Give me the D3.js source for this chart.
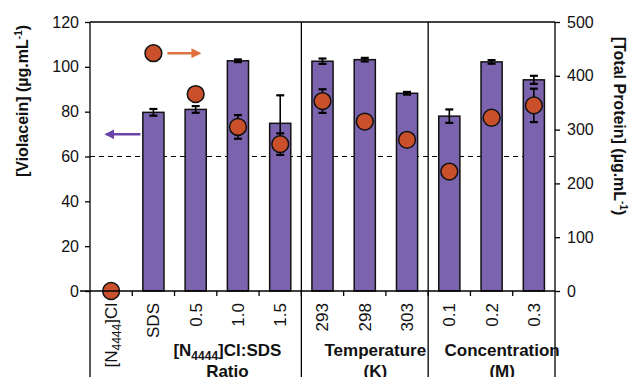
<!DOCTYPE html>
<html>
<head>
<meta charset="utf-8">
<script src="https://cdn.jsdelivr.net/npm/d3@7"></script>
<style>
  body { margin: 0; background: #fff; }
  svg { display: block; font-family: "Liberation Sans", Arial, sans-serif; }
</style>
</head>
<body>
<script>
// Categories along the bottom, and the two measured series
var categories = ["[N4444]Cl", "SDS", "0.5", "1.0", "1.5", "293", "298", "303", "0.1", "0.2", "0.3"];
var violacein = [0, 79.7, 81, 102.7, 74.8, 102.5, 103.2, 88.2, 78, 102.2, 94.2];
var violaceinErr = [0, 1.5, 1.5, 0.6, 12.5, 1.2, 0.8, 0.6, 3, 0.8, 1.8];
var protein = [0, 442, 366, 305, 273, 353, 315, 281, 222, 322, 345];
var proteinErr = [0, 0, 0, 22, 20, 22, 0, 0, 0, 0, 31];
var leftTicks = [0, 20, 40, 60, 80, 100, 120];
var rightTicks = [0, 100, 200, 300, 400, 500];
var threshold = 60;
// groups of categories with their titles (first index, last index, lines)
var groupFirst = [1, 5, 8];
var groupLast = [4, 7, 10];
var groupLines = [["[N4444]Cl:SDS", "Ratio"], ["Temperature", "(K)"], ["Concentration", "(M)"]];
var separators = [4, 7]; // line after these categories

var canvas = {w: 631, h: 377},
    margin = {top: 22, right: 76, bottom: 86, left: 90},
    width = canvas.w - margin.left - margin.right,
    height = canvas.h - margin.top - margin.bottom;

var barColor = "#7b63ad", dotColor = "#c9502a";

var svg = d3.select("body").append("svg")
    .attr("width", canvas.w)
    .attr("height", canvas.h);

var g = svg.append("g")
    .attr("transform", "translate(" + margin.left + "," + margin.top + ")");

var x = d3.scaleBand().domain(categories).range([0, width]).paddingInner(0).paddingOuter(0),
    yL = d3.scaleLinear().domain([0, 120]).range([height, 0]),
    yR = d3.scaleLinear().domain([0, 500]).range([height, 0]);

var bw = x.bandwidth();
function cx(i) { return x(categories[i]) + bw / 2; }

// frame: top line, full-height verticals
g.append("line").attr("x1", 0).attr("x2", width).attr("y1", 0).attr("y2", 0)
    .attr("stroke", "#000").attr("stroke-width", 1.3);
[0, width].concat(separators.map(function(i) { return x(categories[i]) + bw; }))
  .forEach(function(px) {
    g.append("line").attr("x1", px).attr("x2", px).attr("y1", 0).attr("y2", canvas.h - margin.top)
        .attr("stroke", "#000").attr("stroke-width", 1.3);
  });

// dashed reference line
g.append("line")
    .attr("x1", 0).attr("x2", width)
    .attr("y1", yL(threshold)).attr("y2", yL(threshold))
    .attr("stroke", "#000").attr("stroke-dasharray", "5,4").attr("stroke-width", 1);

// bars
var idx = d3.range(categories.length);
g.selectAll(".bar").data(idx.filter(function(i) { return violacein[i] > 0; }))
  .enter().append("rect")
    .attr("class", "bar")
    .attr("x", function(i) { return cx(i) - bw * 0.25; })
    .attr("width", bw * 0.5)
    .attr("y", function(i) { return yL(violacein[i]); })
    .attr("height", function(i) { return height - yL(violacein[i]); })
    .attr("fill", barColor)
    .attr("stroke", "#111").attr("stroke-width", 1.5);

function errorBar(sel, xc, yTop, yBot) {
  sel.append("line").attr("x1", xc).attr("x2", xc).attr("y1", yTop).attr("y2", yBot)
      .attr("stroke", "#000").attr("stroke-width", 1.6);
  [yTop, yBot].forEach(function(yy) {
    sel.append("line").attr("x1", xc - 4).attr("x2", xc + 4).attr("y1", yy).attr("y2", yy)
        .attr("stroke", "#000").attr("stroke-width", 2.2);
  });
}

idx.forEach(function(i) {
  if (violaceinErr[i] > 0)
    errorBar(g, cx(i), yL(violacein[i] + violaceinErr[i]), yL(violacein[i] - violaceinErr[i]));
});
idx.forEach(function(i) {
  if (proteinErr[i] > 0)
    errorBar(g, cx(i), yR(protein[i] + proteinErr[i]), yR(protein[i] - proteinErr[i]));
});

// protein dots
g.selectAll(".dot").data(idx)
  .enter().append("circle")
    .attr("class", "dot")
    .attr("cx", function(i) { return cx(i); })
    .attr("cy", function(i) { return yR(protein[i]); })
    .attr("r", 8.4)
    .attr("fill", dotColor)
    .attr("stroke", "#111").attr("stroke-width", 1.5);

// axes
var fontSize = 16, labelSize = 17;
var left = g.append("g").call(d3.axisLeft(yL).tickValues(leftTicks).tickSize(5).tickSizeOuter(0));
var right = g.append("g").attr("transform", "translate(" + width + ",0)")
    .call(d3.axisRight(yR).tickValues(rightTicks).tickSize(5).tickSizeOuter(0));
var bottom = g.append("g").attr("transform", "translate(0," + height + ")")
    .call(d3.axisBottom(x).tickSize(0).tickFormat(""));
[left, right, bottom].forEach(function(a) {
  a.select(".domain").remove();
  a.selectAll("line").attr("stroke", "#000").attr("stroke-width", 1.3);
  a.selectAll("text").attr("font-size", fontSize).attr("fill", "#111")
      .style("font-family", "Liberation Sans, Arial, sans-serif");
});
left.selectAll("text").attr("x", -11);
right.selectAll("text").attr("x", 12);
// x axis baseline and boundary ticks
g.append("line").attr("x1", -10).attr("x2", width).attr("y1", height).attr("y2", height)
    .attr("stroke", "#000").attr("stroke-width", 1.3);
idx.slice(1).forEach(function(i) {
  var px = x(categories[i]);
  g.append("line").attr("x1", px).attr("x2", px).attr("y1", height).attr("y2", height + 5)
      .attr("stroke", "#000").attr("stroke-width", 1.3);
});

// subscripted "[N4444]" labels
function richText(t, s) {
  var m = s.match(/^\[N(\d+)\](.*)$/);
  if (m) {
    t.append("tspan").text("[N");
    t.append("tspan").attr("font-size", 12).attr("dy", 4).text(m[1]);
    t.append("tspan").attr("dy", -4).text("]" + m[2]);
  } else {
    t.text(s);
  }
}

// rotated category labels
idx.forEach(function(i) {
  var t = g.append("text")
      .attr("transform", "translate(" + cx(i) + "," + (height + 12) + ") rotate(-90)")
      .attr("text-anchor", "end")
      .attr("dy", "0.35em")
      .attr("font-size", labelSize).attr("fill", "#111");
  richText(t, categories[i]);
});

// group titles
groupLines.forEach(function(lines, k) {
  var gx = (cx(groupFirst[k]) + x(categories[groupLast[k]]) + bw) / 2;
  lines.forEach(function(line, j) {
    var t = g.append("text")
        .attr("x", gx).attr("y", 356 - margin.top + 21 * j)
        .attr("text-anchor", "middle")
        .attr("font-size", labelSize).attr("font-weight", "bold").attr("fill", "#111");
    richText(t, line);
  });
});

// axis titles
function unitTitle(t, name) {
  t.append("tspan").text(name + " (\u00b5g.mL");
  t.append("tspan").attr("font-size", 10).attr("dy", -6).text("-1");
  t.append("tspan").attr("dy", 6).text(")");
}
unitTitle(svg.append("text")
    .attr("transform", "translate(28,101) rotate(-90)")
    .attr("text-anchor", "middle")
    .attr("font-size", 16).attr("font-weight", "bold").attr("fill", "#111"), "[Violacein]");
unitTitle(svg.append("text")
    .attr("transform", "translate(614,126) rotate(90)")
    .attr("text-anchor", "middle")
    .attr("font-size", 16).attr("font-weight", "bold").attr("fill", "#111"), "[Total Protein]");

// arrows pointing to each axis
var defs = svg.append("defs");
function arrowHead(id, color) {
  defs.append("marker").attr("id", id).attr("viewBox", "0 0 10 10")
      .attr("refX", 8).attr("refY", 5).attr("markerWidth", 4).attr("markerHeight", 4)
      .attr("orient", "auto")
    .append("path").attr("d", "M0,0L10,5L0,10Z").attr("fill", color);
}
arrowHead("ao", "#e0703d");
arrowHead("ap", "#6a42a8");
var ay1 = yR(protein[1]);
g.append("line").attr("x1", cx(1) + 14).attr("x2", cx(1) + 46).attr("y1", ay1).attr("y2", ay1)
    .attr("stroke", "#e0703d").attr("stroke-width", 2.5).attr("marker-end", "url(#ao)");
var ay2 = yL(violacein[1]) + 22;
g.append("line").attr("x1", cx(1) - 13).attr("x2", cx(1) - 47).attr("y1", ay2).attr("y2", ay2)
    .attr("stroke", "#6a42a8").attr("stroke-width", 2.5).attr("marker-end", "url(#ap)");
</script>
</body>
</html>
